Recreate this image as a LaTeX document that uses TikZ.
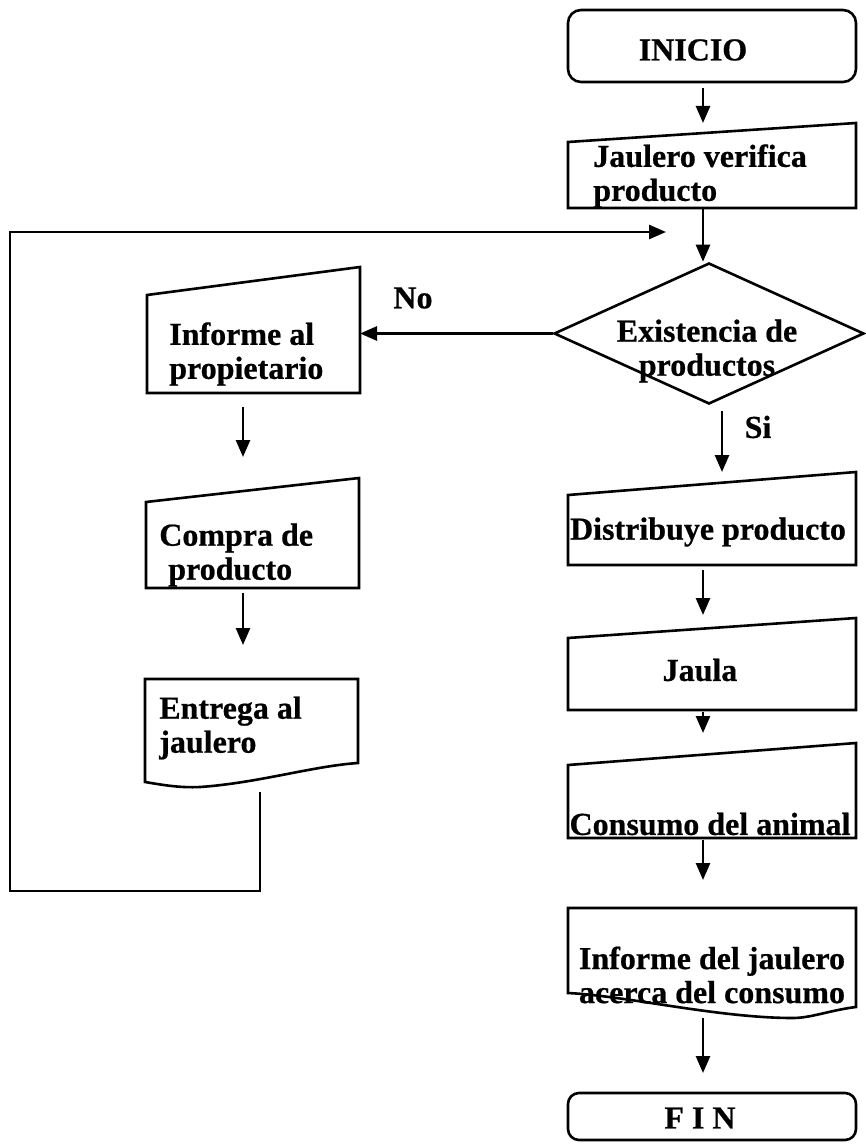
\documentclass[tikz,border=0pt]{standalone}
\usepackage{fontspec}
\setmainfont{Liberation Serif}[BoldFeatures={FakeBold=0.6}]
\usetikzlibrary{shapes.geometric,calc,arrows.meta}
\begin{document}
\begin{tikzpicture}[x=1pt,y=-1pt,
  line width=2.6pt,
  frame/.style={draw=none,inner sep=0pt,outer sep=0pt},
  txt/.style={inner sep=0pt,font=\bfseries\fontsize{32}{34}\selectfont,align=left},
  ctxt/.style={txt,align=center},
  arr/.style={-{Triangle[length=17pt,width=14pt]}}
]
\useasboundingbox[fill=white] (0,0) rectangle (866,1145);
% column x positions of connectors
\coordinate (ax) at (703,0);
\coordinate (sx) at (722,0);
\coordinate (lx) at (243,0);
\coordinate (fbx) at (260,0);
\coordinate (fbBL) at (10,891);
\coordinate (fbTL) at (10,232);
\coordinate (fbEnd) at (666,232);

% INICIO
\node[frame,minimum width=288pt,minimum height=72pt] (ini) at (712,46) {};
\draw[rounded corners=13pt] (ini.north west) rectangle (ini.south east);
\node[ctxt] (iniT) at (693,50) {INICIO};

% Jaulero verifica producto (manual input)
\node[frame,minimum width=288pt,minimum height=85pt] (jv) at (712,165.5) {};
\draw (jv.south west) -- (jv.south east) -- (jv.north east) -- ($(jv.north west)+(0,19)$) -- cycle;
\node[txt,anchor=west] (jvT) at (592,176) {Jaulero verifica\\producto};

% Decision
\node[draw,diamond,minimum width=310pt,minimum height=141pt,inner sep=0pt] (dia) at (709,333.5) {};
\node[ctxt] (diaT) at (707,351) {Existencia de\\productos};

% Informe al propietario
\node[frame,minimum width=213pt,minimum height=126pt] (inf) at (253.5,330) {};
\draw (inf.south west) -- (inf.south east) -- (inf.north east) -- ($(inf.north west)+(0,28)$) -- cycle;
\node[txt,anchor=west] (infT) at (168,354) {Informe al\\propietario};

% Compra de producto
\node[frame,minimum width=213pt,minimum height=110pt] (com) at (252.5,533) {};
\draw (com.south west) -- (com.south east) -- (com.north east) -- ($(com.north west)+(0,24)$) -- cycle;
\node[txt,anchor=west] (comT) at (158,555) {Compra de\\\hspace*{9pt}producto};

% Entrega al jaulero (document)
\node[frame,minimum width=213pt,minimum height=108pt] (ent) at (251.5,733) {};
\draw (ent.north west) -- (ent.north east) -- ($(ent.south east)+(0,-24)$)
  .. controls ($(ent.south east)+(-45,-21)$) and ($(ent.south east)+(-100,-4)$) .. ($(ent.south west)+(55,0)$)
  .. controls ($(ent.south west)+(35,1)$) and ($(ent.south west)+(18,-2)$) .. ($(ent.south west)+(0,-5)$) -- cycle;
\node[txt,anchor=west] (entT) at (158,728) {Entrega al\\jaulero};

% Distribuye producto
\node[frame,minimum width=288pt,minimum height=93pt] (dist) at (712,518.5) {};
\draw (dist.south west) -- (dist.south east) -- (dist.north east) -- ($(dist.north west)+(0,23)$) -- cycle;
\node[ctxt] (distT) at (708,532) {Distribuye producto};

% Jaula
\node[frame,minimum width=288pt,minimum height=92pt] (jau) at (712,664) {};
\draw (jau.south west) -- (jau.south east) -- (jau.north east) -- ($(jau.north west)+(0,20)$) -- cycle;
\node[ctxt] (jauT) at (700,670) {Jaula};

% Consumo del animal
\node[frame,minimum width=288pt,minimum height=95pt] (con) at (712,790.5) {};
\draw (con.south west) -- (con.south east) -- (con.north east) -- ($(con.north west)+(0,22)$) -- cycle;
\node[ctxt] (conT) at (710,824) {Consumo del animal};

% Informe del jaulero (document)
\node[frame,minimum width=288pt,minimum height=110pt] (ijc) at (712,963) {};
\draw (ijc.north west) -- (ijc.north east) -- ($(ijc.south east)+(0,-11)$)
  .. controls ($(ijc.south east)+(-25,-8)$) and ($(ijc.south east)+(-45,0)$) .. ($(ijc.south west)+(225,0)$)
  .. controls ($(ijc.south west)+(150,0)$) and ($(ijc.south west)+(60,-22)$) .. ($(ijc.south west)+(0,-25)$) -- cycle;
\node[ctxt] (ijcT) at (712,975) {Informe del jaulero\\acerca del consumo};

% FIN
\node[frame,minimum width=288pt,minimum height=47pt] (fin) at (712,1116.5) {};
\draw[rounded corners=11pt] (fin.north west) rectangle (fin.south east);
\node[ctxt] (finT) at (700,1118) {F I N};

% labels
\node[ctxt] (noT) at (413,298) {No};
\node[ctxt] (siT) at (758,427) {Si};

% connectors
\draw[arr] ($(ini.south -| ax)+(0,6)$) -- (jv.north -| ax);
\draw[arr] (jv.south -| ax) -- (dia.north -| ax);
\draw[arr] (dia.west) -- (dia.west -| inf.east);
\draw[arr] ($(dia.south -| sx)+(0,6)$) -- (dist.north -| sx);
\draw[arr] ($(dist.south -| ax)+(0,5)$) -- ($(jau.north -| ax)+(0,-3)$);
\draw[arr] ($(jau.south -| ax)+(0,2)$) -- ($(con.north -| ax)+(0,-10)$);
\draw[arr] ($(con.south -| ax)+(0,2)$) -- ($(ijc.north -| ax)+(0,-28)$);
\draw[arr] (ijc.south -| ax) -- ($(fin.north -| ax)+(0,-20)$);
\draw[arr] ($(inf.south -| lx)+(0,14)$) -- ($(com.north -| lx)+(0,-21)$);
\draw[arr] ($(com.south -| lx)+(0,5)$) -- ($(ent.north -| lx)+(0,-34)$);
\draw[arr] ($(ent.south -| fbx)+(0,5)$) |- (fbBL) -- (fbTL) -- (fbEnd);
\end{tikzpicture}
\end{document}
